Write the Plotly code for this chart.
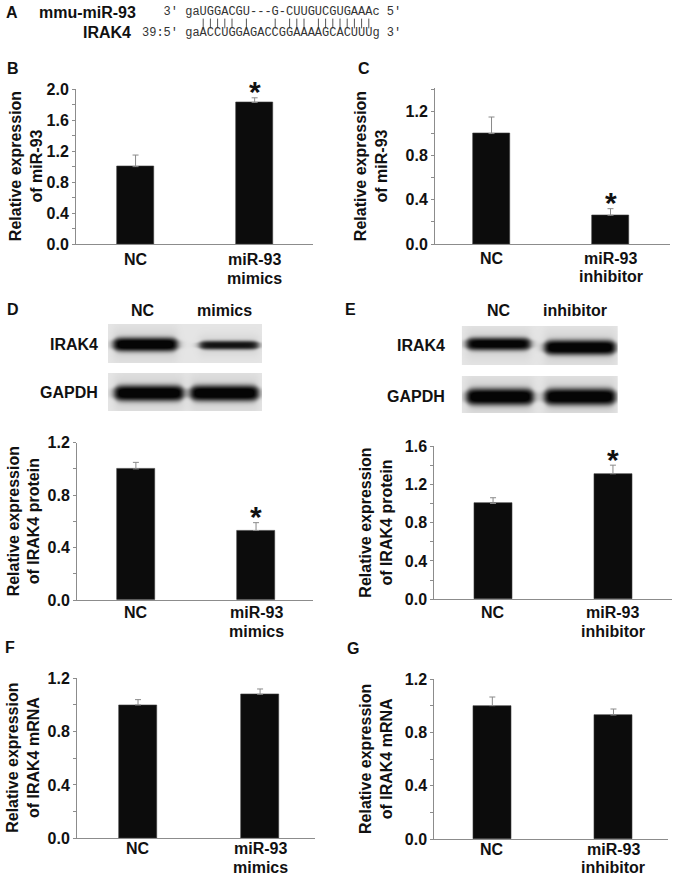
import numpy as np
import plotly.graph_objects as go

FIG_W, FIG_H = 677, 878
FONT = "Liberation Sans, Arial, Helvetica, sans-serif"
MONO = "Liberation Mono, Courier New, monospace"

# ---------------- data ----------------
groups_mimics = ["NC", "miR-93<br>mimics"]
groups_inhib = ["NC", "miR-93<br>inhibitor"]

mir93_mimics = [1.00, 1.83]
mir93_mimics_err = [0.15, 0.06]
mir93_inhib = [1.00, 0.26]
mir93_inhib_err = [0.15, 0.06]

irak4_prot_mimics = [1.00, 0.53]
irak4_prot_mimics_err = [0.05, 0.06]
irak4_prot_inhib = [1.00, 1.31]
irak4_prot_inhib_err = [0.06, 0.09]

irak4_mrna_mimics = [1.00, 1.08]
irak4_mrna_mimics_err = [0.04, 0.04]
irak4_mrna_inhib = [1.00, 0.93]
irak4_mrna_inhib_err = [0.065, 0.045]

sig_B = [False, True]
sig_C = [False, True]
sig_D = [False, True]
sig_E = [False, True]
sig_F = [False, False]
sig_G = [False, False]

blot_D_lanes = ["NC", "mimics"]
blot_E_lanes = ["NC", "inhibitor"]
blot_D_irak4 = [1.00, 0.85]
blot_D_gapdh = [1.00, 1.00]
blot_E_irak4 = [0.95, 1.00]
blot_E_gapdh = [1.00, 1.00]

seq_mirna_name = "mmu-miR-93"
seq_target_name = "IRAK4"
seq_mirna = "3' gaUGGACGU---G-CUUGUCGUGAAAc 5'"
seq_target = "39:5' gaACCUGGAGACCGGAAAAGCACUUUg 3'"

# ---------------- helpers ----------------
def dx(px):
    return px / FIG_W

def dy(px):
    return 1 - px / FIG_H

fig = go.Figure()
annotations = []
AX = "#8c8c8c"
BOLD16 = dict(family=FONT, size=16, color="#111", weight="bold")

def bar_panel(n, vals, errs, sig, groups, xpx, ypx, yrange, xrange, width, ytitle, title_x, lab_off):
    xa = "x" if n == 1 else f"x{n}"
    ya = "y" if n == 1 else f"y{n}"
    fig.add_trace(go.Bar(
        x=[0, 1], y=vals, width=width, xaxis=xa, yaxis=ya,
        marker=dict(color="#0c0c0c", line=dict(color="#3a3a3a", width=0.6)),
        error_y=dict(type="data", symmetric=False, array=errs, arrayminus=[0, 0],
                     color="#8a8a8a", thickness=1, width=3),
        showlegend=False, hoverinfo="y",
    ))
    key = "" if n == 1 else str(n)
    fig.layout["xaxis" + key] = dict(
        domain=[dx(xpx[0]), dx(xpx[1])], anchor=ya, range=xrange,
        tickmode="array", tickvals=[0, 1], showticklabels=False,
        showline=True, linecolor=AX, linewidth=1, ticks="", showgrid=False,
        zeroline=False, fixedrange=True, automargin=False,
    )
    fig.layout["yaxis" + key] = dict(
        domain=[dy(ypx[1]), dy(ypx[0])], anchor=xa, range=yrange,
        tickmode="linear", tick0=0, dtick=0.4, tickformat=".1f",
        ticks="outside", ticklen=3, tickcolor=AX, tickwidth=1,
        minor=dict(ticks="outside", ticklen=3, dtick=0.2, tick0=0, tickcolor=AX),
        showline=True, linecolor=AX, linewidth=1, showgrid=False, zeroline=False,
        fixedrange=True, automargin=False, tickfont=BOLD16,
    )
    # category labels (one annotation per text line for tight line spacing)
    for i, g in enumerate(groups):
        for j, part in enumerate(g.split("<br>")):
            annotations.append(dict(
                xref=xa, yref="paper", x=i, y=dy(ypx[1] + lab_off + 18.5 * j), text=part,
                showarrow=False, xanchor="center", yanchor="middle", font=BOLD16,
            ))
    annotations.append(dict(
        xref="paper", yref="paper", x=dx(title_x), y=dy((ypx[0] + ypx[1]) / 2),
        text=ytitle, textangle=-90, showarrow=False, xanchor="center", yanchor="middle",
        font=BOLD16,
    ))
    for i, s in enumerate(sig):
        if s:
            annotations.append(dict(
                xref=xa, yref=ya, x=i, y=vals[i] + errs[i], text="*", showarrow=False,
                xanchor="center", yanchor="middle", yshift=6,
                font=dict(family=FONT, size=30, color="#111", weight="bold"),
            ))

bar_panel(1, mir93_mimics, mir93_mimics_err, sig_B, groups_mimics,
          (76, 313), (89.3, 244), [0, 2.0], [-0.5, 1.49], 0.315,
          "Relative expression<br>of miR-93", 25.5, 16)
bar_panel(2, mir93_inhib, mir93_inhib_err, sig_C, groups_inhib,
          (435, 670), (88.3, 244), [0, 1.41], [-0.475, 1.5], 0.315,
          "Relative expression<br>of miR-93", 371, 14.3)
bar_panel(3, irak4_prot_mimics, irak4_prot_mimics_err, sig_D, groups_mimics,
          (77, 313), (442.7, 600), [0, 1.2], [-0.49, 1.474], 0.315,
          "Relative expression<br>of IRAK4 protein", 24, 12.7)
bar_panel(4, irak4_prot_inhib, irak4_prot_inhib_err, sig_E, groups_inhib,
          (434.3, 671.7), (446, 599.3), [0, 1.6], [-0.49, 1.49], 0.315,
          "Relative expression<br>of IRAK4 protein", 376, 13.4)
bar_panel(5, irak4_mrna_mimics, irak4_mrna_mimics_err, sig_F, groups_mimics,
          (77, 315), (678.3, 838.3), [0, 1.2], [-0.5, 1.45], 0.31,
          "Relative expression<br>of IRAK4 mRNA", 23.5, 10.5)
bar_panel(6, irak4_mrna_inhib, irak4_mrna_inhib_err, sig_G, groups_inhib,
          (434.3, 668), (679, 839), [0, 1.2], [-0.479, 1.45], 0.31,
          "Relative expression<br>of IRAK4 mRNA", 376, 10)

# ---------------- western blots (rendered band images) ----------------
def band_image(w, h, lanes, strengths):
    xs = np.arange(w)[None, :].astype(float)
    ys = np.arange(h)[:, None].astype(float)
    z = np.full((h, w), 0.07)
    for (x0, x1, yc, t), a in zip(lanes, strengths):
        hx = 1 / (1 + np.exp(-(xs - x0) / 2.2)) * 1 / (1 + np.exp(-(x1 - xs) / 2.2))
        teff = t * (0.55 + 0.45 * hx)
        core = np.exp(-np.abs((ys - yc) / (teff / 2)) ** 3.0)
        halo = np.exp(-((ys - yc) / (t * 1.1)) ** 2)
        z = z + a * hx * (0.93 * core) + 0.10 * a * hx * halo
    return np.clip(z, 0, 1)

blot_boxes = [
    # (axis n, x px range, y px range, lanes geometry (x0, x1, yc, thickness), strengths)
    (7, (108, 262), (324, 363), [(5, 69, 20, 14), (91, 150, 20.7, 9)], blot_D_irak4),
    (8, (108, 262), (373, 411), [(6, 75, 19.7, 16), (82, 150, 19.7, 16)], blot_D_gapdh),
    (9, (461.7, 618), (326, 365), [(4, 68, 17.5, 13), (82, 153, 21, 15)], blot_E_irak4),
    (10, (461.7, 618), (376, 413), [(4, 71, 20.3, 17), (82, 153, 20.3, 17)], blot_E_gapdh),
]
for n, xr, yr, geo, strengths in blot_boxes:
    w = int(round(xr[1] - xr[0]))
    h = int(round(yr[1] - yr[0]))
    z = band_image(w, h, geo, strengths)
    fig.add_trace(go.Heatmap(
        z=z, x=np.arange(w), y=np.arange(h), xaxis=f"x{n}", yaxis=f"y{n}",
        colorscale=[[0, "#f6f6f6"], [1, "#050505"]], zmin=0, zmax=1,
        showscale=False, hoverinfo="skip",
    ))
    fig.layout[f"xaxis{n}"] = dict(domain=[dx(xr[0]), dx(xr[1])], anchor=f"y{n}",
                                   range=[-0.5, w - 0.5], visible=False, fixedrange=True,
                                   automargin=False)
    fig.layout[f"yaxis{n}"] = dict(domain=[dy(yr[1]), dy(yr[0])], anchor=f"x{n}",
                                   range=[h - 0.5, -0.5], visible=False, fixedrange=True,
                                   automargin=False)

def txt(x, y, s, size=16, anchor="center", family=FONT, bold=True, color="#111"):
    annotations.append(dict(
        xref="paper", yref="paper", x=dx(x), y=dy(y), text=s, showarrow=False,
        xanchor=anchor, yanchor="middle",
        font=dict(family=family, size=size, color=color, weight="bold" if bold else "normal"),
    ))

# blot labels
txt(100, 344, "IRAK4", anchor="right")
txt(100, 393, "GAPDH", anchor="right")
txt(143, 310, blot_D_lanes[0])
txt(224.5, 310, blot_D_lanes[1])
txt(447, 345, "IRAK4", anchor="right")
txt(447, 396, "GAPDH", anchor="right")
txt(499, 310, blot_E_lanes[0])
txt(575, 310, blot_E_lanes[1])

# panel letters
for letter, x, y in [("A", 4, 12.7), ("B", 5, 68), ("C", 356, 69), ("D", 5, 309),
                     ("E", 343, 309), ("F", 3, 647), ("G", 345, 648)]:
    txt(x, y, letter, anchor="left")

# panel A: sequence alignment
pairs = {("U", "A"), ("A", "U"), ("G", "C"), ("C", "G")}
pad = (seq_target.index(" ") + 1) - (seq_mirna.index(" ") + 1)
line1 = " " * pad + seq_mirna
line3 = seq_target
match_idx = [i for i, (a, b) in enumerate(zip(line1, line3)) if (a, b) in pairs]
NB = "\u00a0"
SEQ_X0, PITCH = 140.0, 7.2
txt(36.7, 12.7, seq_mirna_name, anchor="left")
txt(133, 32.5, seq_target_name, anchor="right")
for y, s in [(12, line1), (33, line3)]:
    txt(SEQ_X0, y, s.replace(" ", NB), size=12, anchor="left", family=MONO, bold=False, color="#333")

# pairing bars as markers on a small pixel-scaled axis over panel A
TOP_H = 45
fig.add_trace(go.Scatter(
    x=[SEQ_X0 + 2 + PITCH * (i + 0.5) for i in match_idx], y=[23.5] * len(match_idx),
    mode="markers", xaxis="x11", yaxis="y11",
    marker=dict(symbol="line-ns", size=7, line=dict(color="#555", width=1)),
    showlegend=False, hoverinfo="skip",
))
fig.layout["xaxis11"] = dict(domain=[0, 1], range=[0, FIG_W], visible=False,
                             fixedrange=True, automargin=False, anchor="y11")
fig.layout["yaxis11"] = dict(domain=[dy(TOP_H), 1], range=[TOP_H, 0], visible=False,
                             fixedrange=True, automargin=False, anchor="x11")

fig.update_layout(
    width=FIG_W, height=FIG_H, margin=dict(l=0, r=0, t=0, b=0, autoexpand=False),
    paper_bgcolor="white", plot_bgcolor="white",
    annotations=annotations, bargap=0,
    font=dict(family=FONT, color="#111"),
)

fig.write_html("out.html", config={"displayModeBar": False},
               post_script="document.body.style.margin='0';")
